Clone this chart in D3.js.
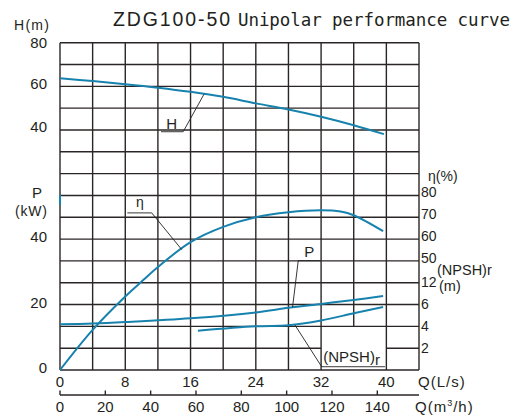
<!DOCTYPE html>
<html><head><meta charset="utf-8">
<script src="https://cdn.jsdelivr.net/npm/d3@7"></script>
<style>
html,body{margin:0;padding:0;background:#fff;}
svg{display:block;}
text{font-family:"Liberation Sans",Arial,sans-serif;fill:#231f20;}
</style></head>
<body><svg id="c" width="524" height="417"></svg>
<script>
// ---- data ----
const qTicksLs = [0, 8, 16, 24, 32, 40];
const qTicksM3h = [0, 20, 40, 60, 80, 100, 120, 140];
const hTicks = [40, 60, 80];
const pTicks = [0, 20, 40];
const etaTicks = [50, 60, 70, 80];
const npshTickVals = [2, 4, 6, 8];
const npshTickLabels = ["2", "4", "6", "12"];

const qH = [0, 4, 8, 12, 16, 20, 24, 28, 32, 36, 39.7];
const headH = [63.7, 62.4, 61.0, 59.4, 57.5, 55.2, 52.2, 49.4, 46.1, 42.2, 38.1];

const qEta = [0, 4, 8, 10.2, 12, 16, 20, 24, 28, 32, 34.4, 36, 39.6];
const eta = [0, 18.4, 33.7, 41.2, 47.2, 58.6, 65.6, 70.0, 72.3, 73.2, 72.6, 70.9, 63.6];

const qP = [0, 4, 8, 16, 24, 28, 32, 36, 39.6];
const power = [13.95, 14.2, 14.65, 15.8, 17.6, 19.0, 20.2, 21.4, 22.6];

const qN = [16.9, 24, 28, 32, 36, 39.6];
const npsh = [3.6, 4.0, 4.1, 4.54, 5.2, 5.78];

const gridQ = d3.range(0, 45, 4);
const gridRows = d3.range(0, 16);

// ---- scales ----
const x = d3.scaleLinear().domain([0, 44]).range([60, 419]);
const xm = d3.scaleLinear().domain([0, 44 * 3.6]).range([60, 419]);
const row = d3.scaleLinear().domain([0, 15]).range([370, 42.7]);
const yH = d3.scaleLinear().domain([0, 80]).range([row(7), row(15)]);
const yP = d3.scaleLinear().domain([0, 60]).range([row(0), row(9)]);
const yE = d3.scaleLinear().domain([0, 80]).range([row(0), row(8)]);
const yN = d3.scaleLinear().domain([0, 16]).range([row(0), row(8)]);

const svg = d3.select("#c");
const blue = "#1782ad";
const gridCol = "#2b2626";

// ---- grid ----
const g = svg.append("g").attr("stroke", gridCol).attr("stroke-width", 1.4);
gridQ.forEach(q => {
  const segs = q === 36 ? [[2, 15]] : [[0, 15]];
  segs.forEach(s => g.append("line").attr("x1", x(q)).attr("x2", x(q))
    .attr("y1", row(s[0])).attr("y2", row(s[1])));
});
gridRows.forEach(r => {
  const segs = r === 1 ? [[0, 32], [40, 44]] : [[0, 44]];
  segs.forEach(s => g.append("line").attr("x1", x(s[0])).attr("x2", x(s[1]))
    .attr("y1", row(r)).attr("y2", row(r)));
});

// ---- curves ----
function curve(qs, vs, ys) {
  const line = d3.line().x(d => x(d[0])).y(d => ys(d[1])).curve(d3.curveCatmullRom.alpha(0.5));
  svg.append("path").attr("d", line(qs.map((q, i) => [q, vs[i]])))
    .attr("fill", "none").attr("stroke", blue).attr("stroke-width", 2);
}
curve(qH, headH, yH);
curve(qEta, eta, yE);
curve(qP, power, yP);
curve(qN, npsh, yN);
// small blue stub on left axis
svg.append("line").attr("x1", x(0)).attr("x2", x(0)).attr("y1", yP(53.5)).attr("y2", yP(50.4))
  .attr("stroke", blue).attr("stroke-width", 2);

// ---- leader annotations ----
const leader = d3.line();
function annot(pts, ys) {
  svg.append("path").attr("d", leader(pts.map(p => [x(p[0]), ys(p[1])])))
    .attr("fill", "none").attr("stroke", "#231f20").attr("stroke-width", 0.9);
}
annot([[12.38, 39.2], [15.1, 39.2], [17.65, 56.4]], yH);
svg.append("text").attr("x", x(13.69)).attr("y", yH(40.4)).attr("text-anchor", "middle")
  .attr("font-size", 15).text("H");

annot([[8.25, 72], [11.24, 72], [14.92, 55.2]], yE);
svg.append("text").attr("x", x(9.8)).attr("y", yE(74.6)).attr("text-anchor", "middle")
  .attr("font-size", 14).text("η");

annot([[31.95, 33.4], [29.2, 33.4], [28.5, 19.15]], yP);
svg.append("text").attr("x", x(30.55)).attr("y", yP(34.6)).attr("text-anchor", "middle")
  .attr("font-size", 15).text("P");

annot([[28.8, 4.12], [32.07, 0.3], [39.83, 0.3]], yN);
const nt = svg.append("text").attr("x", x(32.27)).attr("y", yN(0.73)).attr("font-size", 15);
nt.append("tspan").text("(NPSH)");
nt.append("tspan").attr("dy", 3).text("r");

// ---- title ----
svg.append("text").attr("x", 113).attr("y", 25.5).attr("font-size", 19.5)
  .attr("textLength", 117).attr("lengthAdjust", "spacing").text("ZDG100-50");
svg.append("text").attr("x", 238).attr("y", 26).attr("font-size", 17.5)
  .style("font-family", "'DejaVu Sans Mono',monospace")
  .attr("textLength", 272).attr("lengthAdjust", "spacing").text("Unipolar performance curve");

// ---- left axes ----
const L = svg.append("g").attr("font-size", 15).attr("text-anchor", "end");
hTicks.forEach(v => L.append("text").attr("x", 47).attr("y", yH(v) + (v === 80 ? 5 : 2.4)).text(v));
pTicks.forEach(v => L.append("text").attr("x", 47).attr("y", yP(v) + 3).text(v));
svg.append("text").attr("x", 14).attr("y", 29.5).attr("font-size", 14)
  .attr("letter-spacing", 1.3).text("H(m)");
svg.append("text").attr("x", 32).attr("y", 198.3).attr("font-size", 15).text("P");
svg.append("text").attr("x", 15).attr("y", 216).attr("font-size", 14)
  .attr("letter-spacing", 0.8).text("(kW)");

// ---- right axes ----
const R = svg.append("g").attr("font-size", 14);
etaTicks.forEach(v => R.append("text").attr("x", 421).attr("y", yE(v) + 2).text(v));
npshTickVals.forEach((v, i) => R.append("text").attr("x", 421).attr("y", yN(v) + 4.5).text(npshTickLabels[i]));
svg.append("text").attr("x", 428).attr("y", 181).attr("font-size", 14).text("η(%)");
svg.append("text").attr("x", 437).attr("y", 275).attr("font-size", 14.5).text("(NPSH)r");
svg.append("text").attr("x", 439).attr("y", 291).attr("font-size", 14.5).text("(m)");

// ---- bottom axes ----
const B = svg.append("g").attr("font-size", 15).attr("text-anchor", "middle");
qTicksLs.forEach(v => B.append("text").attr("x", x(v)).attr("y", 386.5).text(v));
const axisY = 395;
svg.append("line").attr("x1", xm(0)).attr("x2", xm(44 * 3.6)).attr("y1", axisY).attr("y2", axisY)
  .attr("stroke", gridCol).attr("stroke-width", 1.4);
qTicksM3h.forEach(v => {
  svg.append("line").attr("x1", xm(v)).attr("x2", xm(v)).attr("y1", axisY - 4.5).attr("y2", axisY)
    .attr("stroke", gridCol).attr("stroke-width", 1.4);
  B.append("text").attr("x", xm(v)).attr("y", 411.5).text(v);
});
svg.append("text").attr("x", 418).attr("y", 386.5).attr("font-size", 15)
  .attr("letter-spacing", 1).text("Q(L/s)");
const qm = svg.append("text").attr("x", 415).attr("y", 411.5).attr("font-size", 15).attr("letter-spacing", 1);
qm.append("tspan").text("Q(m");
qm.append("tspan").attr("font-size", 9).attr("dy", -6).text("3");
qm.append("tspan").attr("dy", 6).text("/h)");
</script></body></html>
